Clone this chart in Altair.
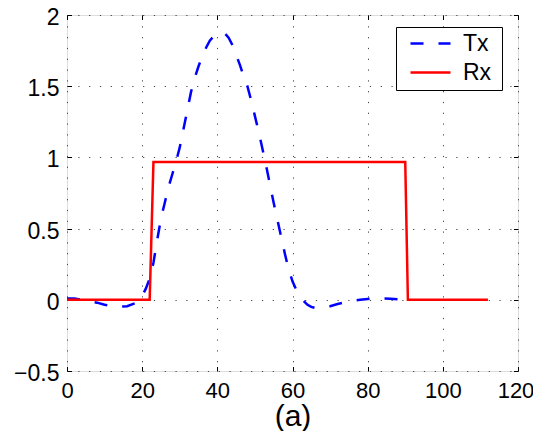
import altair as alt
import pandas as pd

tx_x = [0, 2, 4, 6, 8, 10, 12, 14, 16, 18, 19.5, 21, 22, 23, 24, 25, 26, 27, 28, 29,
        30, 31, 32, 33, 34, 35, 36, 37, 38, 39, 40, 41, 42, 43, 44, 45, 46, 47, 48, 49,
        50, 51, 52, 53, 54, 55, 56, 57, 58, 59, 60, 61, 62, 63, 64, 65, 66, 67, 68, 70,
        72, 74, 76, 78, 80, 82, 84, 86, 88, 90]
tx_y = [0.01, 0.01, 0.0, -0.01, -0.02, -0.035, -0.045, -0.048, -0.045, -0.025, 0.0, 0.08, 0.15, 0.26, 0.42, 0.57, 0.68, 0.79, 0.88, 0.97,
        1.07, 1.2, 1.33, 1.46, 1.56, 1.64, 1.71, 1.77, 1.82, 1.85, 1.87, 1.875, 1.87, 1.84, 1.79, 1.72, 1.65, 1.57, 1.5, 1.4,
        1.29, 1.18, 1.06, 0.94, 0.81, 0.68, 0.56, 0.44, 0.32, 0.21, 0.13, 0.07, 0.02, -0.01, -0.035, -0.05, -0.057, -0.058, -0.056, -0.045,
        -0.03, -0.018, -0.008, 0.0, 0.006, 0.01, 0.01, 0.008, 0.004, 0.0]

rx_x = [0, 22, 23, 90, 90.7, 112]
rx_y = [0, 0, 0.967, 0.967, 0, 0]

series_names = ["Tx", "Rx"]
series_colors = ["#0000ff", "#ff0000"]
x_ticks = [0, 20, 40, 60, 80, 100, 120]
y_ticks = [-0.5, 0, 0.5, 1, 1.5, 2]

df = pd.concat([
    pd.DataFrame({"x": tx_x, "y": tx_y, "series": "Tx", "order": list(range(len(tx_x)))}),
    pd.DataFrame({"x": rx_x, "y": rx_y, "series": "Rx", "order": list(range(len(rx_x)))}),
], ignore_index=True)

FONT = "Liberation Sans"
TICK = 4.5
grid_kw = dict(gridColor="#444", gridDash=[1.2, 9.6], gridOpacity=1, gridWidth=1)
tick_kw = dict(tickColor="black", tickWidth=1, tickSize=TICK, offset=-TICK, domain=False)

xscale = alt.Scale(domain=[0, 120], nice=False, zero=False)
yscale = alt.Scale(domain=[-0.5, 2], nice=False, zero=False)

leg = alt.Legend(
    title=".", titleOrient="right", titleFontSize=2, titlePadding=5, titleOpacity=0,
    orient="none", legendX=329, legendY=12,
    fillColor="white", strokeColor="black", padding=5,
    labelFont=FONT, labelFontSize=23, labelColor="black",
    symbolType="M-2,0H2", symbolSize=400, symbolStrokeWidth=2.5,
    symbolOffset=18, labelOffset=21, rowPadding=5,
)

lines = alt.Chart(df).mark_line(strokeWidth=2.5, clip=True).encode(
    x=alt.X("x:Q", scale=xscale,
            axis=alt.Axis(values=x_ticks, title="(a)", format="d", orient="bottom",
                          labelFont=FONT, labelFontSize=22, labelColor="black",
                          labelPadding=9, labelOverlap=False, labelFlush=False, labelBound=False,
                          labelOffset={"condition": {"test": "datum.value == 120", "value": -2.5}, "value": 0},
                          titleFont=FONT, titleFontSize=30, titleFontWeight="normal",
                          titleColor="black", titlePadding=0, **tick_kw, **grid_kw)),
    y=alt.Y("y:Q", scale=yscale,
            axis=alt.Axis(values=y_ticks, title=None, format="~g", orient="left",
                          labelFont=FONT, labelFontSize=23, labelColor="black",
                          labelPadding=8, labelOffset=2.5, labelOverlap=False, labelFlush=False,
                          **tick_kw, **grid_kw)),
    color=alt.Color("series:N", scale=alt.Scale(domain=series_names, range=series_colors), legend=leg),
    strokeDash=alt.StrokeDash("series:N", scale=alt.Scale(domain=series_names, range=[[13, 15], [1, 0]]), legend=leg),
    order="order:Q",
)

frame_ticks = alt.Chart(df).mark_point(opacity=0).encode(
    x=alt.X("x:Q", scale=xscale,
            axis=alt.Axis(values=x_ticks, title=None, orient="top", labels=False, grid=False, **tick_kw)),
    y=alt.Y("y:Q", scale=yscale,
            axis=alt.Axis(values=y_ticks, title=None, orient="right", labels=False, grid=False, **tick_kw)),
)

chart = alt.layer(lines, frame_ticks).resolve_axis(
    x="independent", y="independent"
).properties(
    width=451, height=356,
    autosize=alt.AutoSizeParams(type="none"),
    padding={"left": 59, "top": 7, "right": 15, "bottom": 60},
).configure_view(stroke="black", strokeWidth=1.5).configure(background="white")

chart.save("out.html", embed_options={"renderer": "svg", "actions": False})
